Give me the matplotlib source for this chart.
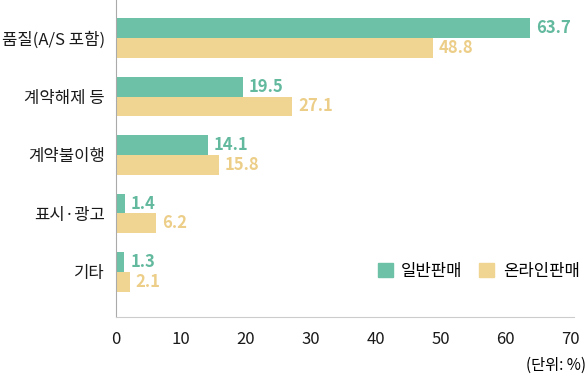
import numpy as np
import matplotlib
matplotlib.use('Agg')
import matplotlib.pyplot as plt
from matplotlib.patches import Patch

plt.rcParams['font.family'] = ['Noto Sans CJK KR', 'DejaVu Sans']

categories = ['품질(A/S 포함)', '계약해제 등', '계약불이행', '표시·광고', '기타']
general = [63.7, 19.5, 14.1, 1.4, 1.3]
online = [48.8, 27.1, 15.8, 6.2, 2.1]
series_names = ['일반판매', '온라인판매']
x_ticks = [0, 10, 20, 30, 40, 50, 60, 70]

green = '#6cc1a7'
yellow = '#f0d592'

fig = plt.figure(figsize=(5.88, 3.81), dpi=100)
ax = fig.add_axes([116 / 588, 1 - 317 / 381, (574 - 116) / 588, 317 / 381])

y = np.arange(len(categories))
h = 0.34
b1 = ax.barh(y - h / 2, general, height=h, color=green)
b2 = ax.barh(y + h / 2, online, height=h, color=yellow)

for bars, vals, c in [(b1, general, '#62b99e'), (b2, online, '#ecce88')]:
    for bar, v in zip(bars, vals):
        ax.text(v + 0.9, bar.get_y() + bar.get_height() / 2, f'{v:.1f}',
                va='center', ha='left', fontsize=12, color=c, fontweight='bold')

ax.set_ylim(4.77, -0.65)
ax.set_xlim(0, 70.5)
ax.set_yticks(y)
ax.set_yticklabels(categories, fontsize=12)
ax.set_xticks(x_ticks)
ax.set_xticklabels([str(t) for t in x_ticks], fontsize=12)
ax.tick_params(axis='both', length=0, pad=8, colors='#1a1a1a')
ax.tick_params(axis='x', pad=10)

for s in ['top', 'right']:
    ax.spines[s].set_visible(False)
ax.spines['left'].set_color('#aaaaaa')
ax.spines['bottom'].set_color('#cccccc')

handles = [Patch(color=green), Patch(color=yellow)]
ax.legend(handles, series_names, loc='lower right', bbox_to_anchor=(1.045, 0.07),
          ncol=2, frameon=False, prop={'size': 12},
          handlelength=0.9, handleheight=0.9, columnspacing=1.0, handletextpad=0.5)

fig.text(586 / 588, 1 - 365 / 381, '(단위: %)', ha='right', va='center', fontsize=11)

fig.savefig('out.png', dpi=100)
